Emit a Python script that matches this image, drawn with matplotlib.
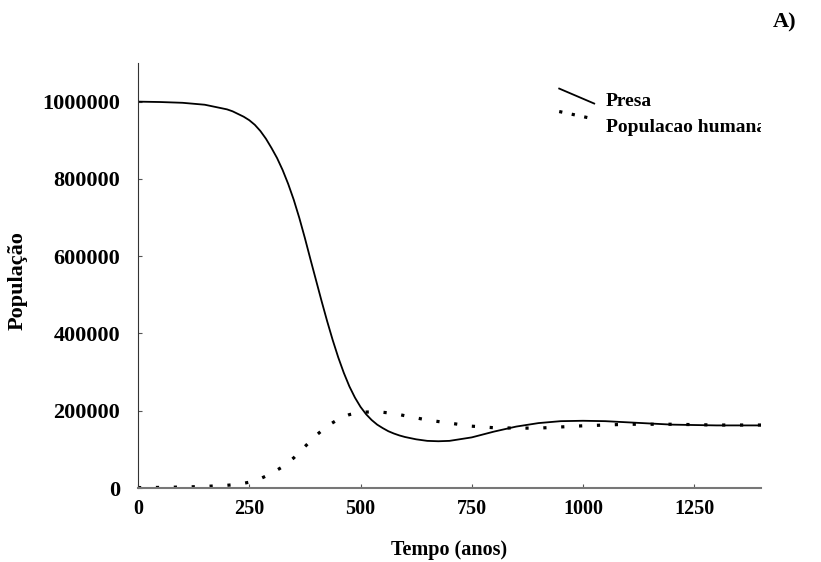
import matplotlib
matplotlib.use("Agg")
import matplotlib.pyplot as plt
from matplotlib.lines import Line2D
from matplotlib.legend_handler import HandlerLine2D

tempo_presa = [0, 50, 100, 150, 200, 212.5, 225, 237.5, 250, 262.5, 275, 287.5, 300,
               312.5, 325, 337.5, 350, 362.5, 375, 387.5, 400, 412.5, 425, 437.5,
               450, 462.5, 475, 487.5, 500, 512.5, 525, 537.5, 550, 562.5, 575,
               587.5, 600, 625, 650, 675, 700, 750, 800, 850, 900, 950, 1000, 1050,
               1100, 1150, 1200, 1250, 1300, 1350, 1400]
presa = [1000000, 999000, 997000, 992000, 980000, 975000, 968000, 961000, 952000,
         940000, 924000, 904000, 880000, 854000, 823000, 787000, 746000, 699000,
         647000, 592000, 538000, 484000, 432000, 383000, 338000, 298000, 263000,
         234000, 210000, 191000, 176000, 164000, 155000, 147000, 141000, 136000,
         132000, 126000, 122000, 121000, 122000, 131000, 146000, 159000, 168000,
         173000, 174000, 173000, 170000, 167000, 164000, 163000, 162000, 162000, 162000]

tempo_humana = [0, 50, 100, 150, 200, 225, 250, 275, 300, 325, 350, 375, 400, 425,
                450, 475, 500, 525, 550, 575, 600, 650, 700, 750, 800, 850, 900,
                950, 1000, 1050, 1100, 1150, 1200, 1250, 1300, 1350, 1400]
humana = [1000, 1500, 2500, 4000, 7000, 9500, 15000, 24000, 38000, 55000, 78000,
          107000, 136000, 160000, 178000, 190000, 196000, 197000, 196000, 193000,
          187000, 176000, 168000, 160000, 156000, 155000, 155000, 158000, 161000,
          163000, 165000, 165000, 165000, 164000, 163000, 163000, 163000]

xticks = [0, 250, 500, 750, 1000, 1250]
yticks = [0, 200000, 400000, 600000, 800000, 1000000]

FONT = "Liberation Serif"
plt.rcParams['font.family'] = FONT
plt.rcParams['font.weight'] = 'bold'

fig = plt.figure(figsize=(8.21, 5.62), dpi=100)
ax = fig.add_axes([138/821, 1-488/562, 623/821, 425/562])

l1, = ax.plot(tempo_presa, presa, color='black', lw=1.3, label='Presa',
              solid_joinstyle='round')
l2, = ax.plot(tempo_humana, humana, color='black', lw=2.3, linestyle=(0, (1, 4.6)),
              dash_capstyle='butt', label='Populacao humana')

ax.set_xlim(0, 1400)
ax.set_ylim(0, 1100000)
ax.set_xticks(xticks)
ax.set_yticks(yticks)
ax.set_xticklabels([str(v) for v in xticks], fontsize=14.5, fontweight='bold')
ax.set_yticklabels([str(v) for v in yticks], fontsize=16, fontweight='bold')
ax.tick_params(axis='x', direction='in', length=3, pad=8, color='#555555')
ax.tick_params(axis='y', direction='in', length=3, pad=13, color='#555555')
for s in ['top', 'right']:
    ax.spines[s].set_visible(False)
ax.spines['left'].set_color('#333333')
ax.spines['bottom'].set_color('#777777')
ax.spines['bottom'].set_linewidth(1.5)

ax.set_xlabel('Tempo (anos)', fontsize=14.5, fontweight='bold', labelpad=15)
ax.set_ylabel('População', fontsize=16, fontweight='bold')
ax.yaxis.set_label_coords(-0.177, 0.487)


class DiagHandler(HandlerLine2D):
    def __init__(self, y0, y1, dashes=None, lw=None, **kw):
        super().__init__(**kw)
        self.y0, self.y1, self.dashes, self.lw = y0, y1, dashes, lw

    def create_artists(self, legend, orig_handle, xdescent, ydescent,
                       width, height, fontsize, trans):
        line = Line2D([0 - xdescent, width - xdescent],
                      [self.y0 * height - ydescent, self.y1 * height - ydescent])
        self.update_prop(line, orig_handle, legend)
        if self.dashes is not None:
            line.set_linestyle(self.dashes)
            line.set_dash_capstyle('butt')
        if self.lw is not None:
            line.set_linewidth(self.lw)
        line.set_transform(trans)
        return [line]


leg = ax.legend(loc='upper left', bbox_to_anchor=(0.648, 0.973), frameon=False,
                handlelength=1.8, handletextpad=0.6, labelspacing=0.45,
                prop={'family': FONT, 'weight': 'bold', 'size': 14},
                handler_map={l1: DiagHandler(1.25, 0.15),
                             l2: DiagHandler(1.5, 0.95, dashes=(0, (1, 3.0)), lw=2.3)})
for t in leg.get_texts():
    t.set_clip_on(True)
    t.set_clip_box(ax.bbox)

fig.text(785/821, 1-22/562, 'A)', fontsize=16, fontweight='bold',
         ha='center', va='center')

fig.savefig('out.png', dpi=100)
